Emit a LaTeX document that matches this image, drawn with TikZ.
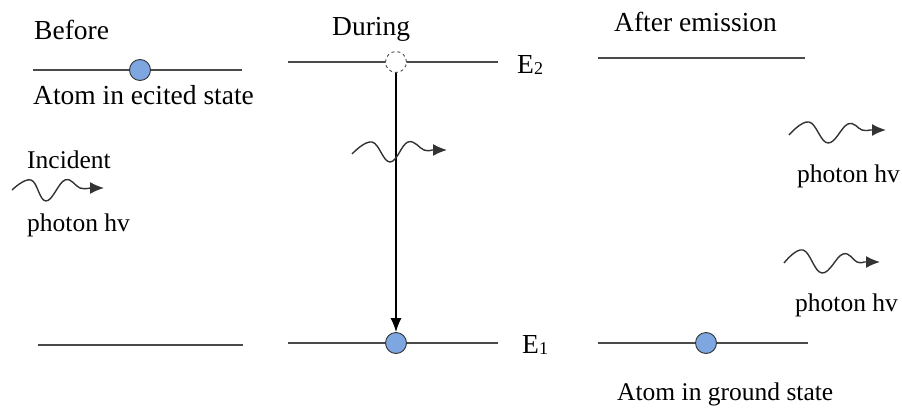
\documentclass[tikz,border=0pt]{standalone}
\usepackage{fontspec}
\setmainfont{Liberation Serif}
\usetikzlibrary{arrows.meta}
\definecolor{atomblue}{HTML}{7EA6E0}
\definecolor{lvl}{HTML}{4A4A4A}
\tikzset{
  txt/.style={anchor=base west, inner sep=0pt, font=\fontsize{25.5}{30}\selectfont},
  bigtxt/.style={txt, font=\fontsize{27.5}{32}\selectfont},
  level/.style={draw=lvl, line width=1.4pt},
  atom/.style={circle, draw=black!80, line width=0.9pt, fill=atomblue, minimum size=21pt, inner sep=0pt},
  ghost/.style={circle, draw=black!70, dashed, line width=0.9pt, fill=white, minimum size=21pt, inner sep=0pt},
  wave/.style={draw=black!80, line width=1.4pt, -{Latex[length=14pt,width=12pt]}},
}
\newcommand{\esub}[1]{E\raisebox{-1.5pt}{\fontsize{18}{20}\selectfont #1}}
\begin{document}
\begin{tikzpicture}[x=1pt,y=-1pt]
\useasboundingbox (0,0) rectangle (902,407);
% titles
\node[bigtxt] (tb) at (34,39) {Before};
\node[bigtxt] (td) at (332,35) {During};
\node[bigtxt] (ta) at (614,31) {After emission};
% levels
\coordinate (l1a) at (33,70); \coordinate (l1b) at (242,70);
\coordinate (l2a) at (288,62); \coordinate (l2b) at (498,62);
\coordinate (l3a) at (598,58); \coordinate (l3b) at (805,58);
\coordinate (b1a) at (38,345); \coordinate (b1b) at (243,345);
\coordinate (b2a) at (288,343); \coordinate (b2b) at (498,343);
\coordinate (b3a) at (598,343); \coordinate (b3b) at (808,343);
\draw[level] (l1a) -- (l1b);
\draw[level] (l2a) -- (l2b);
\draw[level] (l3a) -- (l3b);
\draw[level] (b1a) -- (b1b);
\draw[level] (b2a) -- (b2b);
\draw[level] (b3a) -- (b3b);
% atoms
\node[atom] (a1) at (140,70) {};
\node[ghost] (a2) at (396,62) {};
\node[atom] (a3) at (396,343) {};
\node[atom] (a4) at (706,343) {};
\draw[line width=1.3pt, black, -{Latex[length=14pt,width=11pt]}] (a2.south) -- (a3.north);
% labels
\node[bigtxt] (ex) at (33,104) {Atom in ecited state};
\node[bigtxt] (e2) at (517,73) {\esub{2}};
\node[bigtxt] (e1) at (522,353) {\esub{1}};
\node[txt] (gs) at (617,400) {Atom in ground state};
\node[txt] (inc) at (27,168) {Incident};
\node[txt] (ph1) at (27,231) {photon hv};
\node[txt] (ph2) at (797,182) {photon hv};
\node[txt] (ph3) at (795,311) {photon hv};
% waves
\draw[wave] plot[smooth, tension=0.7] coordinates {(12,190) (31,180) (46,201) (65,180) (80,188) (90,188)} -- (104,188);
\draw[wave] plot[smooth, tension=0.7] coordinates {(352,154) (372,142) (390,162) (408,142) (424,150) (432,150)} -- (447,150);
\draw[wave] plot[smooth, tension=0.7] coordinates {(789,135) (809,122) (828,143) (848,124) (862,130) (870,130)} -- (886,130);
\draw[wave] plot[smooth, tension=0.7] coordinates {(784,263) (803,250) (822,273) (843,254) (857,262) (864,262)} -- (880,262);
\end{tikzpicture}
\end{document}
